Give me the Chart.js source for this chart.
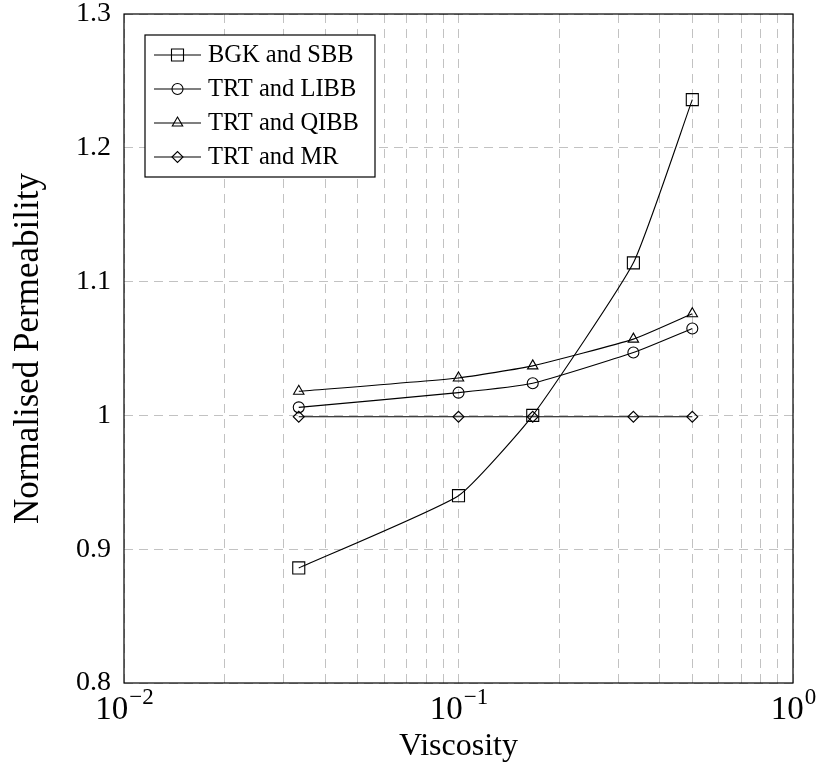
<!DOCTYPE html>
<html lang="en">
<head>
<meta charset="UTF-8">
<title>Normalised Permeability</title>
<script src="https://cdn.jsdelivr.net/npm/chart.js"></script>
<style>
  body { margin: 0; background: #fff; }
</style>
</head>
<body>
<canvas id="myChart" width="817" height="769"></canvas>
<script>
// data
var viscosity = [0.0333, 0.1, 0.1667, 0.3333, 0.5];
var bgkSbb  = [0.886, 0.940, 1.000, 1.114, 1.236];
var trtLibb = [1.006, 1.017, 1.024, 1.047, 1.065];
var trtQibb = [1.018, 1.028, 1.037, 1.057, 1.076];
var trtMr   = [0.999, 0.999, 0.999, 0.999, 0.999];
var seriesNames = ["BGK and SBB", "TRT and LIBB", "TRT and QIBB", "TRT and MR"];

// axes
var xGridValues = [0.01, 0.02, 0.03, 0.04, 0.05, 0.06, 0.07, 0.08, 0.09,
                   0.1, 0.2, 0.3, 0.4, 0.5, 0.6, 0.7, 0.8, 0.9, 1];
var xMajorValues = [0.01, 0.1, 1];
var xMajorBase = "10";
var xMajorExponents = ["\u22122", "\u22121", "0"];
var yTickValues = [0.8, 0.9, 1, 1.1, 1.2, 1.3];
var yTickLabels = ["0.8", "0.9", "1", "1.1", "1.2", "1.3"];

var FONT = "'Liberation Serif', 'DejaVu Serif', serif";

function punten(ys) {
  var pts = [];
  for (var i = 0; i < viscosity.length; i++) {
    pts.push({ x: viscosity[i], y: ys[i] });
  }
  return pts;
}

function serie(label, ys, style, radius) {
  return {
    label: label,
    data: punten(ys),
    borderColor: "#000",
    borderWidth: 1.1,
    backgroundColor: "rgba(0,0,0,0)",
    pointStyle: style,
    pointRadius: radius,
    pointHoverRadius: radius,
    pointBorderColor: "#000",
    pointBorderWidth: 1.1,
    pointBackgroundColor: "rgba(0,0,0,0)",
    tension: 0.15,
    fill: false
  };
}

var gridStyle = {
  color: "rgba(0,0,0,0.24)",
  lineWidth: 1,
  drawTicks: false
};

// frame, 10^n labels and the legend box
var legendaPlugin = {
  id: "legenda",
  afterDraw: function (chart) {
    var ctx = chart.ctx;
    var area = chart.chartArea;
    var xs = chart.scales.x;

    ctx.save();
    ctx.strokeStyle = "#000";
    ctx.lineWidth = 1.2;
    ctx.strokeRect(area.left, area.top, area.right - area.left, area.bottom - area.top);

    // x labels with a real superscript
    ctx.fillStyle = "#000";
    ctx.textBaseline = "alphabetic";
    ctx.textAlign = "left";
    for (var k = 0; k < xMajorValues.length; k++) {
      var px = xs.getPixelForValue(xMajorValues[k]);
      ctx.font = "33px " + FONT;
      var wb = ctx.measureText(xMajorBase).width;
      ctx.font = "23px " + FONT;
      var we = ctx.measureText(xMajorExponents[k]).width;
      var x0 = px - (wb + we) / 2;
      ctx.font = "33px " + FONT;
      ctx.fillText(xMajorBase, x0, area.bottom + 36);
      ctx.font = "23px " + FONT;
      ctx.fillText(xMajorExponents[k], x0 + wb + 1, area.bottom + 21);
    }

    var bx = area.left + 21, by = area.top + 21, bw = 230, bh = 142;
    ctx.fillStyle = "#fff";
    ctx.fillRect(bx, by, bw, bh);
    ctx.strokeRect(bx, by, bw, bh);

    ctx.font = "24.5px " + FONT;
    ctx.textBaseline = "middle";
    for (var i = 0; i < chart.data.datasets.length; i++) {
      var ds = chart.data.datasets[i];
      var ry = by + 20 + i * 34;
      ctx.beginPath();
      ctx.strokeStyle = "#000";
      ctx.lineWidth = 1.1;
      ctx.moveTo(bx + 9, ry);
      ctx.lineTo(bx + 56, ry);
      ctx.stroke();
      ctx.fillStyle = "rgba(0,0,0,0)";
      Chart.helpers.drawPoint(ctx, {
        pointStyle: ds.pointStyle, radius: ds.pointRadius, rotation: 0, borderWidth: 1.1
      }, bx + 32.5, ry);
      ctx.fillStyle = "#000";
      ctx.fillText(ds.label, bx + 63, ry + 1);
    }
    ctx.restore();
  }
};

var config = {
  type: "line",
  data: {
    datasets: [
      serie(seriesNames[0], bgkSbb, "rect", 8.5),
      serie(seriesNames[1], trtLibb, "circle", 5.5),
      serie(seriesNames[2], trtQibb, "triangle", 6),
      serie(seriesNames[3], trtMr, "rectRot", 5.5)
    ]
  },
  options: {
    responsive: false,
    animation: false,
    devicePixelRatio: 1,
    layout: { padding: { top: 14, right: 24, left: 0, bottom: 0 } },
    plugins: {
      legend: { display: false },
      tooltip: { enabled: false }
    },
    scales: {
      x: {
        type: "logarithmic",
        min: 0.01,
        max: 1,
        grid: gridStyle,
        border: { display: false, dash: [9, 6] },
        afterBuildTicks: function (scale) {
          scale.ticks = xGridValues.map(function (v) { return { value: v }; });
        },
        afterFit: function (scale) {
          scale.height = 86;
          scale.paddingLeft = 0;
          scale.paddingRight = 0;
        },
        ticks: {
          autoSkip: false,
          maxRotation: 0,
          callback: function () { return ""; }
        },
        title: {
          display: true,
          text: "Viscosity",
          color: "#000",
          font: { family: FONT, size: 32 },
          padding: { top: 0, bottom: 3 }
        }
      },
      y: {
        min: 0.8,
        max: 1.3,
        grid: gridStyle,
        border: { display: false, dash: [9, 6] },
        afterBuildTicks: function (scale) {
          scale.ticks = yTickValues.map(function (v) { return { value: v }; });
        },
        afterFit: function (scale) {
          scale.width = 124;
          scale.paddingTop = 0;
          scale.paddingBottom = 0;
        },
        ticks: {
          padding: 13,
          color: "#000",
          font: { family: FONT, size: 28 },
          callback: function (value, index) {
            return yTickLabels[index];
          }
        },
        title: {
          display: true,
          text: "Normalised Permeability",
          color: "#000",
          font: { family: FONT, size: 35 },
          padding: { top: 8, bottom: 0 }
        }
      }
    }
  },
  plugins: [legendaPlugin]
};

var myChart = new Chart(document.getElementById("myChart"), config);
</script>
</body>
</html>
